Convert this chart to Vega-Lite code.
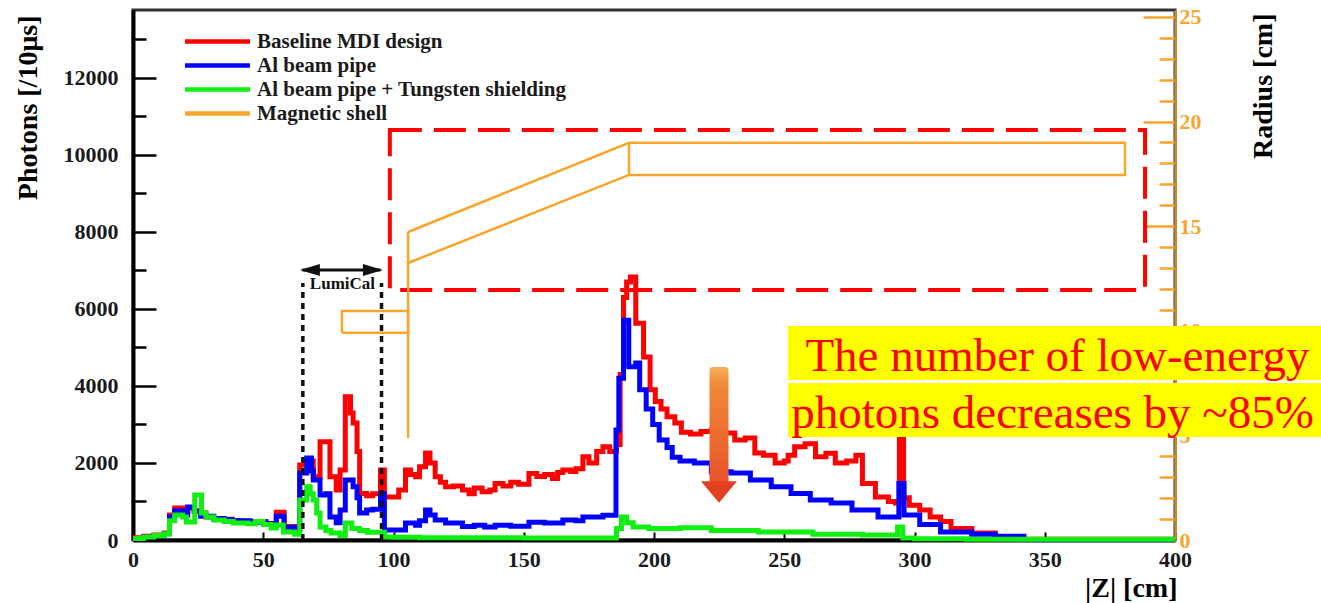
{
  "$schema": "https://vega.github.io/schema/vega-lite/v6.json",
  "width": 1042,
  "height": 530,
  "autosize": {"type": "none"},
  "padding": {"left": 133, "top": 10, "right": 146, "bottom": 63},
  "background": "white",
  "view": {"stroke": "#333333", "strokeWidth": 3},
  "config": {"font": "Liberation Serif", "axis": {"labelOverlap": false}},
  "datasets": {
    "red": [
      {"z":0,"v":60},{"z":4,"v":100},{"z":8,"v":130},{"z":12,"v":180},{"z":14,"v":650},{"z":16,"v":830},{"z":19,"v":700},{"z":21,"v":830},{"z":23.5,"v":760},{"z":26,"v":700},{"z":28,"v":600},{"z":31,"v":560},{"z":34,"v":540},{"z":38,"v":500},{"z":42,"v":490},{"z":45,"v":470},{"z":48,"v":480},{"z":51,"v":430},{"z":55,"v":720},{"z":58,"v":350},{"z":62,"v":300},{"z":64,"v":1950},{"z":66.7,"v":2050},{"z":69.2,"v":1640},{"z":71.8,"v":2550},{"z":75.6,"v":1640},{"z":78,"v":1300},{"z":79.5,"v":1820},{"z":81.5,"v":3720},{"z":83.5,"v":3300},{"z":84.5,"v":3040},{"z":86,"v":2300},{"z":87,"v":1210},{"z":89.7,"v":1150},{"z":92,"v":1200},{"z":95,"v":1820},{"z":96.5,"v":1120},{"z":100,"v":1120},{"z":102,"v":1300},{"z":104.6,"v":1820},{"z":106.5,"v":1700},{"z":108.5,"v":1640},{"z":110,"v":1900},{"z":112.3,"v":2260},{"z":114,"v":2000},{"z":116,"v":1640},{"z":118,"v":1500},{"z":120,"v":1380},{"z":123,"v":1400},{"z":126.5,"v":1300},{"z":129,"v":1200},{"z":131,"v":1350},{"z":134,"v":1250},{"z":137,"v":1300},{"z":139,"v":1470},{"z":142,"v":1400},{"z":145,"v":1500},{"z":148,"v":1450},{"z":152,"v":1730},{"z":155,"v":1650},{"z":158,"v":1700},{"z":161,"v":1600},{"z":163,"v":1750},{"z":165,"v":1820},{"z":168,"v":1780},{"z":170,"v":1850},{"z":172.7,"v":2160},{"z":175,"v":2000},{"z":178,"v":2300},{"z":180.4,"v":2420},{"z":183,"v":2300},{"z":185.6,"v":2480},{"z":187,"v":4300},{"z":188.3,"v":6300},{"z":189.5,"v":6700},{"z":191,"v":6830},{"z":193,"v":5630},{"z":196,"v":4750},{"z":198.5,"v":3900},{"z":200.5,"v":3600},{"z":202.7,"v":3400},{"z":205,"v":3200},{"z":208,"v":3040},{"z":210.5,"v":2800},{"z":214,"v":2750},{"z":218,"v":2820},{"z":222,"v":2860},{"z":226,"v":2780},{"z":231,"v":2600},{"z":235,"v":2650},{"z":238.7,"v":2260},{"z":242,"v":2200},{"z":246.5,"v":2000},{"z":250,"v":2050},{"z":251.5,"v":2200},{"z":254,"v":2420},{"z":258,"v":2500},{"z":262,"v":2160},{"z":266,"v":2250},{"z":269.6,"v":2000},{"z":274,"v":2050},{"z":277.5,"v":2200},{"z":280,"v":1470},{"z":285,"v":1120},{"z":290,"v":1000},{"z":292.7,"v":960},{"z":294.2,"v":2680},{"z":295.8,"v":1100},{"z":298,"v":900},{"z":302,"v":780},{"z":306,"v":600},{"z":310,"v":480},{"z":314,"v":300},{"z":322,"v":180},{"z":331,"v":60},{"z":340,"v":20},{"z":400,"v":20}
    ],
    "blue": [
      {"z":0,"v":40},{"z":4,"v":80},{"z":8,"v":120},{"z":12,"v":160},{"z":14,"v":600},{"z":16,"v":760},{"z":19,"v":650},{"z":21,"v":860},{"z":23.5,"v":750},{"z":26,"v":620},{"z":31,"v":560},{"z":35,"v":530},{"z":38,"v":500},{"z":45,"v":470},{"z":51,"v":420},{"z":55,"v":620},{"z":58,"v":330},{"z":62,"v":280},{"z":64,"v":1740},{"z":66.7,"v":2130},{"z":68.5,"v":1800},{"z":69.2,"v":1560},{"z":71.8,"v":1170},{"z":74,"v":1200},{"z":75.6,"v":600},{"z":78,"v":450},{"z":79.5,"v":780},{"z":81.5,"v":1560},{"z":84.5,"v":1380},{"z":86,"v":1100},{"z":87,"v":700},{"z":89.7,"v":780},{"z":92,"v":800},{"z":95,"v":1200},{"z":96.5,"v":260},{"z":100,"v":260},{"z":104.6,"v":440},{"z":108.5,"v":380},{"z":110,"v":500},{"z":112.3,"v":780},{"z":114,"v":650},{"z":116,"v":520},{"z":120,"v":440},{"z":126.5,"v":350},{"z":131,"v":380},{"z":135,"v":340},{"z":139,"v":380},{"z":145,"v":360},{"z":152,"v":460},{"z":158,"v":440},{"z":165,"v":520},{"z":170,"v":500},{"z":172.7,"v":600},{"z":180.4,"v":640},{"z":185.4,"v":2860},{"z":186.5,"v":4200},{"z":188.3,"v":5710},{"z":190.3,"v":4500},{"z":193,"v":4600},{"z":194.5,"v":3900},{"z":197,"v":3400},{"z":199.5,"v":3000},{"z":202,"v":2600},{"z":205,"v":2400},{"z":207,"v":2150},{"z":210,"v":2050},{"z":215.5,"v":2000},{"z":222,"v":1770},{"z":229.6,"v":1740},{"z":237,"v":1560},{"z":245,"v":1380},{"z":252.6,"v":1210},{"z":260,"v":1040},{"z":268,"v":960},{"z":276,"v":780},{"z":286,"v":600},{"z":294,"v":1470},{"z":296,"v":650},{"z":302,"v":400},{"z":310,"v":210},{"z":322,"v":150},{"z":331,"v":100},{"z":342,"v":10},{"z":400,"v":10}
    ],
    "green": [
      {"z":0,"v":40},{"z":4,"v":80},{"z":8,"v":120},{"z":12,"v":160},{"z":14,"v":500},{"z":16,"v":650},{"z":19,"v":600},{"z":20.5,"v":470},{"z":23.7,"v":1170},{"z":26.3,"v":700},{"z":28,"v":600},{"z":31,"v":520},{"z":35,"v":480},{"z":38.5,"v":440},{"z":44,"v":420},{"z":47,"v":480},{"z":50,"v":400},{"z":53,"v":310},{"z":55,"v":390},{"z":57.7,"v":210},{"z":62,"v":150},{"z":64,"v":1040},{"z":66.7,"v":1380},{"z":68,"v":1200},{"z":69.2,"v":1040},{"z":70.5,"v":700},{"z":71.8,"v":340},{"z":74,"v":250},{"z":76,"v":180},{"z":79.5,"v":120},{"z":81.5,"v":440},{"z":84,"v":300},{"z":87,"v":250},{"z":90,"v":200},{"z":95,"v":200},{"z":96.5,"v":80},{"z":100,"v":70},{"z":110,"v":60},{"z":130,"v":60},{"z":150,"v":50},{"z":170,"v":50},{"z":185.6,"v":300},{"z":187.5,"v":600},{"z":189.5,"v":450},{"z":192,"v":340},{"z":198,"v":300},{"z":210,"v":320},{"z":222,"v":250},{"z":240,"v":210},{"z":261,"v":150},{"z":280,"v":130},{"z":293.5,"v":340},{"z":295.5,"v":50},{"z":300,"v":30},{"z":320,"v":20},{"z":400,"v":20}
    ],
    "shell": [
      {"s":"a","i":0,"z":80.2,"r":9.9},{"s":"a","i":1,"z":105.6,"r":9.9},{"s":"a","i":2,"z":105.6,"r":10.95},{"s":"a","i":3,"z":80.2,"r":10.95},{"s":"a","i":4,"z":80.2,"r":9.9},
      {"s":"b","i":0,"z":105.6,"r":4.88},{"s":"b","i":1,"z":105.6,"r":14.72},
      {"s":"c","i":0,"z":105.6,"r":14.72},{"s":"c","i":1,"z":190.4,"r":18.98},{"s":"c","i":2,"z":380.8,"r":18.98},{"s":"c","i":3,"z":380.8,"r":17.45},{"s":"c","i":4,"z":190.4,"r":17.45},{"s":"c","i":5,"z":105.6,"r":13.24},
      {"s":"d","i":0,"z":190.4,"r":17.45},{"s":"d","i":1,"z":190.4,"r":18.98}
    ]
  },
  "layer": [
    {
      "layer": [
        {
          "data": {"name": "red"},
          "mark": {"type": "line", "interpolate": "step-after", "strokeWidth": 5, "clip": false},
          "encoding": {
            "x": {
              "field": "z", "type": "quantitative",
              "scale": {"domain": [0, 400], "nice": false, "zero": false},
              "axis": {
                "values": [0,50,100,150,200,250,300,350,400],
                "format": "d", "grid": false, "labelFlush": false, "labelOverlap": false, "labelBound": false,
                "domainColor": "#000000", "domainWidth": 4,
                "tickColor": "#000000", "tickWidth": 2, "tickSize": -8,
                "labelFont": "Liberation Serif", "labelFontWeight": "bold", "labelFontSize": 22, "labelColor": "#1a1a1a", "labelPadding": 17,
                "title": "|Z| [cm]", "titleFont": "Liberation Serif", "titleFontWeight": "bold", "titleFontSize": 28, "titleColor": "#000000",
                "titleAnchor": "end", "titleAlign": "right", "titleBaseline": "middle", "titleX": 1044, "titleY": 48
              }
            },
            "y": {
              "field": "v", "type": "quantitative",
              "scale": {"domain": [0, 13766], "nice": false, "zero": true},
              "axis": {
                "values": [0,500,1000,1500,2000,2500,3000,3500,4000,4500,5000,5500,6000,6500,7000,7500,8000,8500,9000,9500,10000,10500,11000,11500,12000,12500,13000,13500],
                "labelExpr": "datum.value % 2000 === 0 ? datum.label : ''",
                "format": "d", "grid": false, "labelOverlap": false, "labelBound": false, "labelFlush": false,
                "domainColor": "#000000", "domainWidth": 4,
                "tickColor": "#000000", "tickWidth": 2.5,
                "tickSize": {"condition": {"test": "datum.value % 2000 === 0", "value": -23}, "value": -13},
                "labelFont": "Liberation Serif", "labelFontWeight": "bold", "labelFontSize": 22, "labelColor": "#1a1a1a", "labelPadding": 38,
                "title": "Photons [/10μs]", "titleFont": "Liberation Serif", "titleFontWeight": "bold", "titleFontSize": 28, "titleColor": "#000000",
                "titleAngle": 270, "titleAlign": "right", "titleBaseline": "middle", "titleX": -105, "titleY": 5
              }
            },
            "color": {
              "datum": "Baseline MDI design", "type": "nominal",
              "scale": {"domain": ["Baseline MDI design", "Al beam pipe", "Al beam pipe + Tungsten shielding", "Magnetic shell"], "range": ["#ff0000", "#0000ff", "#11ee11", "#f9a52c"]},
              "legend": {
                "orient": "none", "legendX": 71, "legendY": 18, "title": null, "padding": 0,
                "symbolType": "M-3,0H3", "symbolSize": 470, "symbolStrokeWidth": 4.5,
                "labelFont": "Liberation Serif", "labelFontWeight": "bold", "labelFontSize": 21, "labelColor": "#1a1a1a",
                "labelOffset": 26, "rowPadding": -2.3, "labelLimit": 0
              }
            }
          }
        },
        {
          "data": {"values": [{"z1": 98.6, "z2": 388.5, "v1": 6493, "v2": 10648}]},
          "mark": {"type": "rect", "filled": false, "stroke": "#ff0000", "strokeWidth": 4, "strokeDash": [32, 12], "clip": false},
          "encoding": {
            "x": {"field": "z1", "type": "quantitative"},
            "x2": {"field": "z2"},
            "y": {"field": "v1", "type": "quantitative"},
            "y2": {"field": "v2"}
          }
        },
        {
          "data": {"name": "blue"},
          "mark": {"type": "line", "interpolate": "step-after", "strokeWidth": 5, "clip": false},
          "encoding": {
            "x": {"field": "z", "type": "quantitative"},
            "y": {"field": "v", "type": "quantitative"},
            "color": {"datum": "Al beam pipe", "type": "nominal"}
          }
        },
        {
          "data": {"name": "green"},
          "mark": {"type": "line", "interpolate": "step-after", "strokeWidth": 5, "clip": false},
          "encoding": {
            "x": {"field": "z", "type": "quantitative"},
            "y": {"field": "v", "type": "quantitative"},
            "color": {"datum": "Al beam pipe + Tungsten shielding", "type": "nominal"}
          }
        },
        {
          "data": {"values": [{"z": 65.2, "v1": 0, "v2": 6675}, {"z": 95.4, "v1": 0, "v2": 6675}]},
          "mark": {"type": "rule", "color": "#111111", "strokeWidth": 3.5, "strokeDash": [6, 5]},
          "encoding": {
            "x": {"field": "z", "type": "quantitative"},
            "y": {"field": "v1", "type": "quantitative"},
            "y2": {"field": "v2"}
          }
        },
        {
          "data": {"values": [{"z1": 65, "z2": 95, "v": 7012}]},
          "mark": {"type": "rule", "color": "#111111", "strokeWidth": 3},
          "encoding": {
            "x": {"field": "z1", "type": "quantitative"},
            "x2": {"field": "z2"},
            "y": {"field": "v", "type": "quantitative"}
          }
        },
        {
          "data": {"values": [{"z": 67.9, "v": 7012, "dir": "left"}, {"z": 92.1, "v": 7012, "dir": "right"}]},
          "mark": {"type": "point", "filled": true, "color": "#111111", "size": 400, "opacity": 1},
          "encoding": {
            "x": {"field": "z", "type": "quantitative"},
            "y": {"field": "v", "type": "quantitative"},
            "shape": {"field": "dir", "type": "nominal", "legend": null, "scale": {"domain": ["left", "right", "down"], "range": ["M-1,0L1,-0.6L1,0.6Z", "M1,0L-1,-0.6L-1,0.6Z", "M-1,-0.6L1,-0.6L0,0.6Z"]}}
          }
        },
        {
          "data": {"values": [{"z": 80.4, "v": 6648, "t": "LumiCal"}]},
          "mark": {"type": "text", "font": "Liberation Serif", "fontWeight": "bold", "fontSize": 17, "color": "#111111", "align": "center", "baseline": "middle"},
          "encoding": {
            "x": {"field": "z", "type": "quantitative"},
            "y": {"field": "v", "type": "quantitative"},
            "text": {"field": "t"}
          }
        },
        {
          "data": {"values": [{"z1": 221.3, "z2": 228.6, "v1": 1400, "v2": 4493}]},
          "mark": {"type": "rect", "cornerRadius": 3, "fill": {"gradient": "linear", "x1": 0, "y1": 0, "x2": 0, "y2": 1, "stops": [{"offset": 0, "color": "#f7b060"}, {"offset": 0.15, "color": "#f08a38"}, {"offset": 1, "color": "#e8502a"}]}},
          "encoding": {
            "x": {"field": "z1", "type": "quantitative"},
            "x2": {"field": "z2"},
            "y": {"field": "v1", "type": "quantitative"},
            "y2": {"field": "v2"}
          }
        },
        {
          "data": {"values": [{"z": 224.95, "v": 1247, "dir": "down"}]},
          "mark": {"type": "point", "filled": true, "color": "#e2401f", "size": 1296, "opacity": 1},
          "encoding": {
            "x": {"field": "z", "type": "quantitative"},
            "y": {"field": "v", "type": "quantitative"},
            "shape": {"field": "dir", "type": "nominal", "legend": null}
          }
        },
        {
          "data": {"values": [{"z1": 251.4, "z2": 460, "v1": 4155, "v2": 5558}, {"z1": 251.4, "z2": 460, "v1": 2675, "v2": 4078}]},
          "mark": {"type": "rect", "color": "#ffff00", "clip": false},
          "encoding": {
            "x": {"field": "z1", "type": "quantitative"},
            "x2": {"field": "z2"},
            "y": {"field": "v1", "type": "quantitative"},
            "y2": {"field": "v2"}
          }
        },
        {
          "data": {"values": [{"z": 354.9, "v": 4389, "t": "The number of low-energy"}, {"z": 353.0, "v": 2909, "t": "photons decreases by ~85%"}]},
          "mark": {"type": "text", "font": "Liberation Serif", "fontSize": 47, "color": "#ff0000", "align": "center", "baseline": "alphabetic", "clip": false},
          "encoding": {
            "x": {"field": "z", "type": "quantitative"},
            "y": {"field": "v", "type": "quantitative"},
            "text": {"field": "t"}
          }
        }
      ]
    },
    {
      "data": {"name": "shell"},
      "mark": {"type": "line", "strokeWidth": 2.5, "clip": false},
      "encoding": {
        "x": {"field": "z", "type": "quantitative"},
        "y": {
          "field": "r", "type": "quantitative",
          "scale": {"domain": [0, 25.33], "nice": false, "zero": true},
          "axis": {
            "orient": "right",
            "values": [0,1,2,3,4,5,6,7,8,9,10,11,12,13,14,15,16,17,18,19,20,21,22,23,24,25],
            "labelExpr": "datum.value % 5 === 0 ? datum.label : ''",
            "format": "d", "grid": false, "labelOverlap": false, "labelBound": false, "labelFlush": false,
            "domainColor": "#c8882c", "domainWidth": 2.5,
            "tickColor": "#f9a52c", "tickWidth": 2.5,
            "tickSize": {"condition": {"test": "datum.value % 5 === 0", "value": -32}, "value": -16},
            "labelFont": "Liberation Serif", "labelFontWeight": "bold", "labelFontSize": 22, "labelColor": "#f9a52c", "labelPadding": 36,
            "title": "Radius [cm]", "titleFont": "Liberation Serif", "titleFontWeight": "bold", "titleFontSize": 28, "titleColor": "#000000",
            "titleAngle": 270, "titleAlign": "right", "titleBaseline": "middle", "titleX": 88, "titleY": 3
          }
        },
        "color": {"datum": "Magnetic shell", "type": "nominal"},
        "detail": {"field": "s", "type": "nominal"},
        "order": {"field": "i", "type": "quantitative"}
      }
    }
  ],
  "resolve": {"scale": {"y": "independent"}}
}
